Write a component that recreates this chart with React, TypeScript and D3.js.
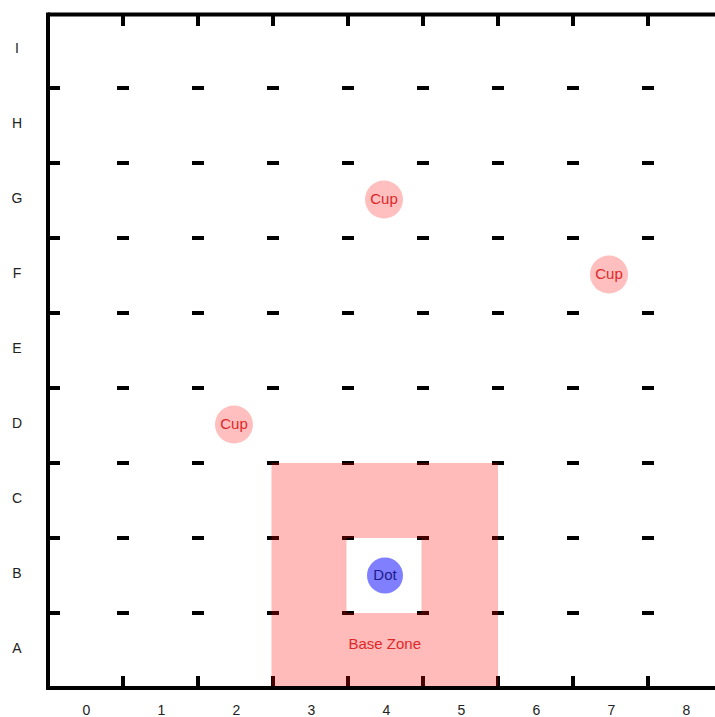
import React from "react";
import * as d3 from "d3";

const columns = ["0", "1", "2", "3", "4", "5", "6", "7", "8"];
const rows = ["A", "B", "C", "D", "E", "F", "G", "H", "I"];
const cupCols = ["4", "7", "2"];
const cupRows = ["G", "F", "D"];
const dotCol = "4";
const dotRow = "B";
const zoneCols = ["3", "5"];
const zoneRows = ["A", "C"];
const holeCol = "4";
const holeRow = "B";
const zoneLabel = "Base Zone";

export default function App() {
  const W = 715, H = 717;
  const x = d3.scaleBand().domain(columns).range([48, 723]);
  const y = d3.scaleBand().domain([...rows].reverse()).range([13, 688]);
  const bw = x.bandwidth();
  const bh = y.bandwidth();
  const colB = columns.slice(1).map((c) => x(c)!);
  const rowB = [...rows].reverse().slice(1).map((r) => y(r)!);

  const zx0 = x(zoneCols[0])! - 1.5, zx1 = x(zoneCols[1])! + bw;
  const zy0 = y(zoneRows[1])!, zy1 = y(zoneRows[0])! + bh;
  const hx0 = x(holeCol)! - 1.5, hy0 = y(holeRow)!;
  const zonePath = `M${zx0},${zy0}H${zx1}V${zy1}H${zx0}Z M${hx0},${hy0}H${hx0 + bw}V${hy0 + bh}H${hx0}Z`;

  const font = "Liberation Sans, Arial, Helvetica, sans-serif";
  return (
    <svg width={W} height={H} style={{ position: "absolute", left: 0, top: 0, background: "#fff" }}>
      {colB.map((cx) =>
        rowB.map((ry) => (
          <rect key={`${cx}-${ry}`} x={cx - 6} y={ry - 2} width={12} height={4} fill="#000" />
        ))
      )}
      {rowB.map((ry) => (
        <rect key={`l${ry}`} x={48} y={ry - 2} width={12} height={4} fill="#000" />
      ))}
      {colB.map((cx) => (
        <g key={`t${cx}`}>
          <rect x={cx - 2} y={13} width={4} height={13} fill="#000" />
          <rect x={cx - 2} y={676} width={4} height={12} fill="#000" />
        </g>
      ))}
      <path d={zonePath} fill="rgb(255,0,0)" fillOpacity={0.27} fillRule="evenodd" />
      <text x={(zx0 + zx1) / 2} y={y(zoneRows[0])! + bh / 2 - 5} textAnchor="middle" dominantBaseline="middle"
        fontFamily={font} fontSize={15} fill="#e02828">{zoneLabel}</text>
      <line x1={48} x2={730} y1={14.5} y2={14.5} stroke="#000" strokeWidth={4} />
      <line x1={48} x2={730} y1={688} y2={688} stroke="#000" strokeWidth={4} />
      <line x1={48} x2={48} y1={12.5} y2={690} stroke="#000" strokeWidth={4} />
      {cupCols.map((c, i) => {
        const cx = x(c)! + bw / 2 - 1.5;
        const cy = y(cupRows[i])! + bh / 2 - 1;
        return (
          <g key={`cup${i}`}>
            <circle cx={cx} cy={cy} r={19} fill="rgb(255,0,0)" fillOpacity={0.25} />
            <text x={cx} y={cy + 1} textAnchor="middle" dominantBaseline="middle" fontFamily={font}
              fontSize={15} fill="#e02828">Cup</text>
          </g>
        );
      })}
      <circle cx={x(dotCol)! + bw / 2 - 0.5} cy={y(dotRow)! + bh / 2} r={18} fill="rgb(0,0,255)" fillOpacity={0.5} />
      <text x={x(dotCol)! + bw / 2 - 0.5} y={y(dotRow)! + bh / 2 + 1} textAnchor="middle" dominantBaseline="middle"
        fontFamily={font} fontSize={15} fill="#1c1c8c">Dot</text>
      {columns.map((c) => (
        <text key={`xl${c}`} x={x(c)! + bw / 2 + 1} y={711} textAnchor="middle" dominantBaseline="middle"
          fontFamily={font} fontSize={14} fill="#222">{c}</text>
      ))}
      {rows.map((r) => (
        <text key={`yl${r}`} x={17} y={y(r)! + bh / 2 - 1} textAnchor="middle" dominantBaseline="middle"
          fontFamily={font} fontSize={14} fill="#222">{r}</text>
      ))}
    </svg>
  );
}
